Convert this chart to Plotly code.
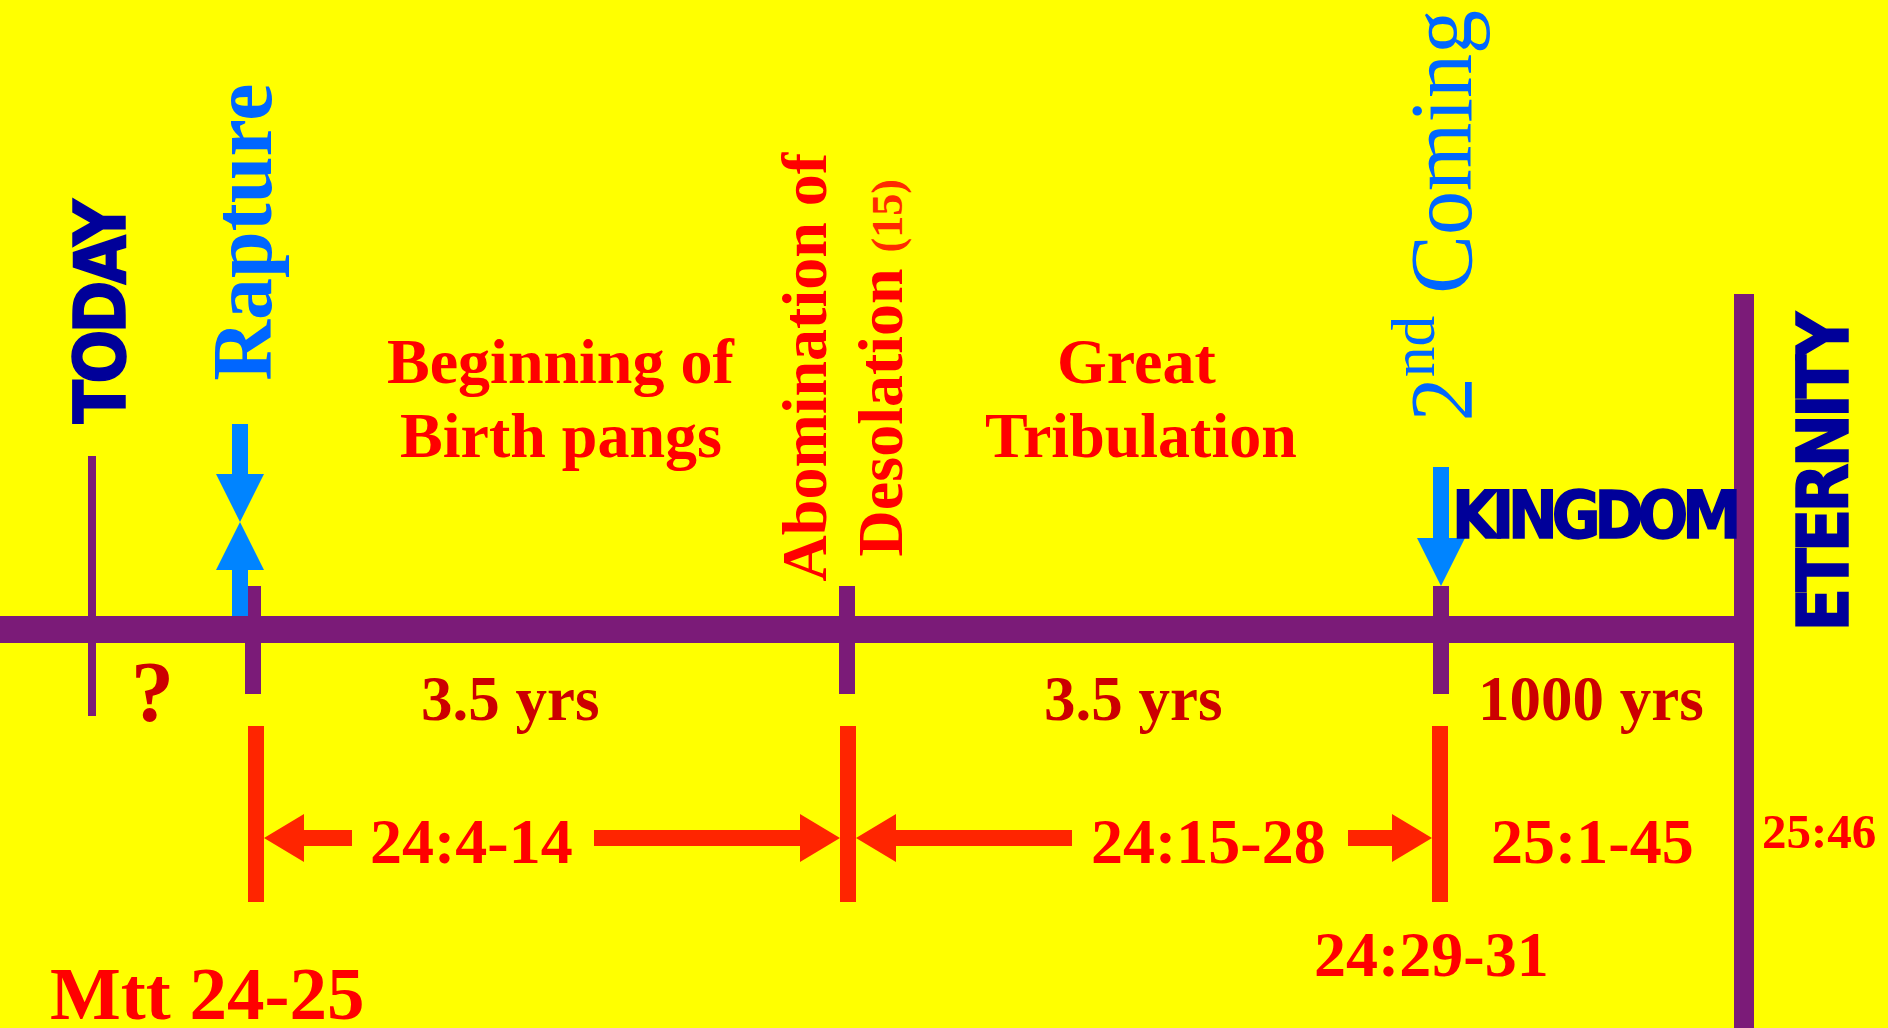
import plotly.graph_objects as go

W, H = 1888, 1028

# ---------------- data ----------------
# timeline events: x positions on the diagram's horizontal scale
event_names = ["TODAY", "Rapture", "Abomination", "2nd Coming", "Eternity"]
event_x = [92, 253, 847, 1441, 1744]
timeline_y = [616, 643]          # main timeline band (top, bottom)
tick_y = [586, 694]              # event tick marks
today_y = [456, 716]
eternity_y = [294, 1028]

# red scripture-span bars and arrows
span_bar_x = [256, 848, 1440]
span_bar_y = [726, 902]
arrow_y = 838
arrow_tip_x = [264, 840, 856, 1432]
arrow_tail_x = [352, 594, 1072, 1348]

# blue event arrows: (x, tip_y, tail_y)
blue_arrow_x = [240, 240, 1441]
blue_arrow_tip = [522, 522, 586]
blue_arrow_tail = [424, 619, 467]

# period labels above/below the timeline
period_labels = ["?", "3.5 yrs", "3.5 yrs", "1000 yrs"]
period_x = [152, 510, 1133, 1591]
period_baseline = [721, 720, 720, 720]

ref_labels = ["24:4-14", "24:15-28", "25:1-45", "24:29-31", "25:46"]
ref_x = [471, 1208, 1592, 1431, 1819]
ref_baseline = [863, 863, 863, 976, 848]
ref_size = [64, 64, 64, 64, 49]

phase_lines = ["Beginning of", "Birth pangs", "Great", "Tribulation"]
phase_x = [560, 561, 1136, 1141]
phase_baseline = [383, 457, 383, 457]

# ---------------- style ----------------
YELLOW = "#FFFF00"
PURPLE = "#7B1B78"
ARROW_RED = "#FF2500"
RED = "#FF0000"
DARK_RED = "#CC0000"
BLUE_TXT = "#0066FF"
BLUE_ARR = "#0084FF"
NAVY = "#000099"
SERIF = "Liberation Serif, Times New Roman, serif"
HEAVY = "Liberation Sans Narrow, Arial Narrow, DejaVu Sans Condensed, sans-serif"
C_SERIF = 0.3375
C_SANS = 0.3465

shapes = []


def rect(x0, x1, y0, y1, color):
    shapes.append(dict(type="rect", xref="x", yref="y", x0=x0, x1=x1, y0=y0, y1=y1,
                       fillcolor=color, line=dict(width=0), layer="above"))


def poly(pts, color):
    path = "M " + " L ".join(f"{x},{y}" for x, y in pts) + " Z"
    shapes.append(dict(type="path", xref="x", yref="y", path=path,
                       fillcolor=color, line=dict(width=0), layer="above"))


def h_arrow(tip, tail, y, color, shaft=8, head_w=24, head_l=40):
    d = 1 if tail > tip else -1
    b = tip + d * head_l
    poly([(tip, y), (b, y - head_w), (b, y - shaft), (tail, y - shaft),
          (tail, y + shaft), (b, y + shaft), (b, y + head_w)], color)


def v_arrow(x, tip, tail, color, shaft=8, head_w=24, head_l=48):
    d = 1 if tail > tip else -1
    b = tip + d * head_l
    poly([(x, tip), (x - head_w, b), (x - shaft, b), (x - shaft, tail),
          (x + shaft, tail), (x + shaft, b), (x + head_w, b)], color)


# TODAY line
rect(event_x[0] - 4, event_x[0] + 4, today_y[0], today_y[1], PURPLE)
# event ticks
for ex in event_x[1:4]:
    rect(ex - 8, ex + 8, tick_y[0], tick_y[1], PURPLE)
# blue arrows
for bx, bt, bl in zip(blue_arrow_x, blue_arrow_tip, blue_arrow_tail):
    v_arrow(bx, bt, bl, BLUE_ARR)
# main timeline and eternity wall
rect(0, event_x[4], timeline_y[0], timeline_y[1], PURPLE)
rect(event_x[4] - 10, event_x[4] + 10, eternity_y[0], eternity_y[1], PURPLE)
# red span bars and arrows
for sx in span_bar_x:
    rect(sx - 8, sx + 8, span_bar_y[0], span_bar_y[1], ARROW_RED)
for tp, tl in zip(arrow_tip_x, arrow_tail_x):
    h_arrow(tp, tl, arrow_y, ARROW_RED)

annotations = []


def label(text, x, y, size, color, family=SERIF, bold=True, angle=0):
    annotations.append(dict(text=text, x=x, y=y, xref="x", yref="y", showarrow=False,
                            xanchor="center", yanchor="middle", textangle=angle,
                            font=dict(family=family, size=size, color=color,
                                      weight="bold" if bold else "normal")))


for t, x, b in zip(phase_lines, phase_x, phase_baseline):
    label(t, x, b - C_SERIF * 64, 64, RED)

for t, x, b in zip(period_labels, period_x, period_baseline):
    s = 86 if t == "?" else 63
    label(t, x, b - C_SERIF * s, s, DARK_RED)

for t, x, b, s in zip(ref_labels, ref_x, ref_baseline, ref_size):
    label(t, x, b - C_SERIF * s, s, RED)

label("Mtt 24-25", 207, 1019 - C_SERIF * 75, 75, RED)

# vertical event labels
label("Rapture", 270 - C_SERIF * 84, 232, 84, BLUE_TXT, angle=-90)
label("Abomination of", 826 - C_SERIF * 64, 367, 64, RED, angle=-90)
label("Desolation <span style='font-size:44px;fill:#FF2A00'>(15)</span>",
      902 - C_SERIF * 64, 368, 64, RED, angle=-90)
label("2<sup>nd</sup> Coming", 1472 - C_SERIF * 88 - 8, 216, 88, BLUE_TXT, bold=False, angle=-90)

HEAVY_STYLE = "stroke:#000099;stroke-width:1.5px;stroke-linejoin:miter;letter-spacing:{}px"
label(f"<span style='{HEAVY_STYLE.format(-4)}'>TODAY</span>", 125 - C_SANS * 71, 311, 71, NAVY,
      family=HEAVY, angle=-90)
label(f"<span style='{HEAVY_STYLE.format(-4)}'>ETERNITY</span>", 1848 - C_SANS * 71, 471, 71, NAVY,
      family=HEAVY, angle=-90)
label(f"<span style='{HEAVY_STYLE.format(-6)}'>KINGDOM</span>", 1594, 538 - C_SANS * 66, 66, NAVY,
      family=HEAVY)

fig = go.Figure()
fig.update_layout(
    width=W, height=H, margin=dict(l=0, r=0, t=0, b=0),
    paper_bgcolor=YELLOW, plot_bgcolor=YELLOW,
    xaxis=dict(range=[0, W], visible=False, fixedrange=True),
    yaxis=dict(range=[H, 0], visible=False, fixedrange=True),
    shapes=shapes, annotations=annotations, showlegend=False,
)
fig.write_html("out.html", config={"displayModeBar": False},
               post_script="document.body.style.margin='0';document.body.style.overflow='hidden';")
